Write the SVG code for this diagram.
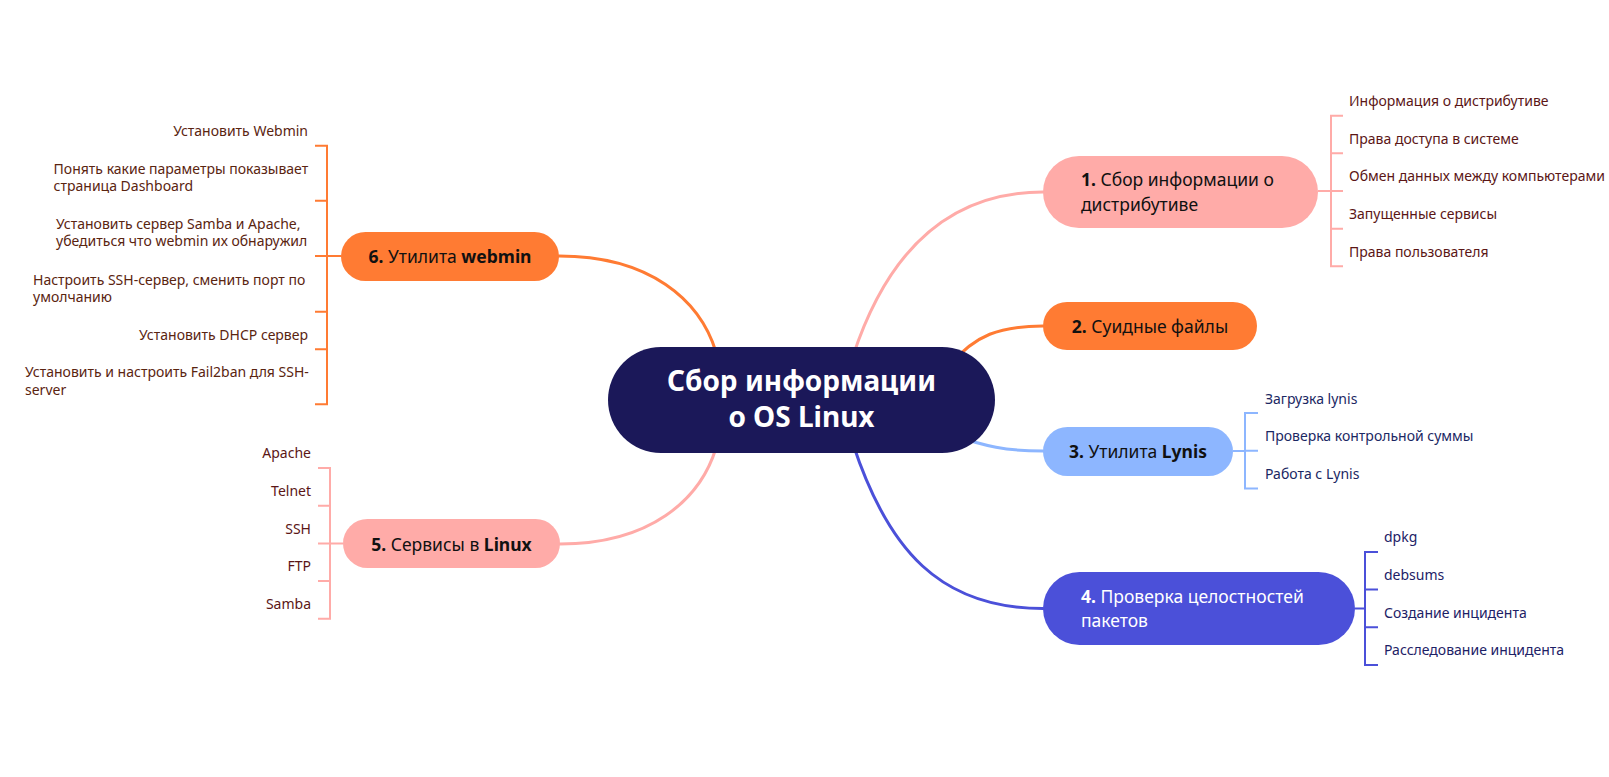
<svg xmlns="http://www.w3.org/2000/svg" width="1609" height="777" viewBox="0 0 1609 777">
<style>
text { font-family: "Noto Sans", "Open Sans", "Liberation Sans", sans-serif; }
.sub { font-size: 14px; }
.lbl { font-size: 17.5px; fill: #111111; }
.b { font-weight: 700; }
.c1 { fill: #5B1616; }
.c3 { fill: #1B2763; }
.c4 { fill: #1D2166; }
.c5 { fill: #5B1616; }
.c6 { fill: #5A2410; }
.ln { fill: none; stroke-width: 3; stroke-linecap: round; }
.br { fill: none; stroke-width: 2; }
.pink { stroke: #FFABA8; }
.orange { stroke: #FF7B33; }
.lblue { stroke: #8DB6FF; }
.indigo { stroke: #4B50D9; }
</style>
<rect width="1609" height="777" fill="#FFFFFF"/>
<g id="connectors">
  <path class="ln pink" d="M853 356 C884 262 940 192 1043 192"/>
  <path class="ln orange" d="M950 365 C975 335 1000 326 1043 326"/>
  <path class="ln lblue" d="M955 436 C985 446 1005 451 1043 451"/>
  <path class="ln indigo" d="M853 444 C888 550 940 608.5 1043 608.5"/>
  <path class="ln orange" d="M716 352 C700 300 650 256 559 256"/>
  <path class="ln pink" d="M716 448 C700 500 650 544 560 544"/>
  <path class="br pink" d="M1318 191 H1331 M1343 115.7 H1331 V266.3 H1343 M1331 153.3 H1343 M1331 191 H1343 M1331 228.7 H1343"/>
  <path class="br lblue" d="M1233 451 H1245 M1258 413 H1245 V488.5 H1258 M1245 450.8 H1258"/>
  <path class="br indigo" d="M1355 608.5 H1365 M1378 552 H1365 V664.9 H1378 M1365 589.6 H1378 M1365 627.2 H1378"/>
  <path class="br orange" d="M341 256 H327 M315 145.7 H327 V404.3 H315 M327 200.7 H315 M327 256 H315 M327 311.7 H315 M327 349.3 H315"/>
  <path class="br pink" d="M343 543.4 H330 M318 468 H330 V618.8 H318 M330 505.7 H318 M330 543.4 H318 M330 581.1 H318"/>
</g>
<g id="center">
  <rect x="608" y="347" width="387" height="106" rx="53" fill="#1B1859"/>
  <text x="801.5" y="391" text-anchor="middle" font-size="28" class="b" fill="#FFFFFF">Сбор информации</text>
  <text x="801.5" y="427" text-anchor="middle" font-size="28" class="b" fill="#FFFFFF">о OS Linux</text>
</g>
<g id="node1">
  <rect x="1043" y="156" width="275" height="72" rx="36" fill="#FFABA8"/>
  <text class="lbl" x="1081" y="186"><tspan class="b">1.</tspan> Сбор информации о</text>
  <text class="lbl" x="1081" y="210.5">дистрибутиве</text>
  <text class="sub c1" x="1349" y="106">Информация о дистрибутиве</text>
  <text class="sub c1" x="1349" y="143.6">Права доступа в системе</text>
  <text class="sub c1" x="1349" y="181.3">Обмен данных между компьютерами</text>
  <text class="sub c1" x="1349" y="219">Запущенные сервисы</text>
  <text class="sub c1" x="1349" y="256.6">Права пользователя</text>
</g>
<g id="node2">
  <rect x="1043" y="302" width="214" height="48" rx="24" fill="#FF7B33"/>
  <text class="lbl" x="1150" y="332.5" text-anchor="middle"><tspan class="b">2.</tspan> Суидные файлы</text>
</g>
<g id="node3">
  <rect x="1043" y="427" width="190" height="49" rx="24.5" fill="#8DB6FF"/>
  <text class="lbl" x="1138" y="458" text-anchor="middle"><tspan class="b">3.</tspan> Утилита <tspan class="b">Lynis</tspan></text>
  <text class="sub c3" x="1265" y="403.5">Загрузка lynis</text>
  <text class="sub c3" x="1265" y="441.2">Проверка контрольной суммы</text>
  <text class="sub c3" x="1265" y="478.9">Работа с Lynis</text>
</g>
<g id="node4">
  <rect x="1043" y="572" width="312" height="73" rx="36.5" fill="#4B50D9"/>
  <text class="lbl" x="1081" y="602.5" style="fill:#FFFFFF"><tspan class="b">4.</tspan> Проверка целостностей</text>
  <text class="lbl" x="1081" y="627" style="fill:#FFFFFF">пакетов</text>
  <text class="sub c4" x="1384" y="542.3">dpkg</text>
  <text class="sub c4" x="1384" y="580">debsums</text>
  <text class="sub c4" x="1384" y="617.5">Создание инцидента</text>
  <text class="sub c4" x="1384" y="655.2">Расследование инцидента</text>
</g>
<g id="node5">
  <rect x="343" y="519" width="217" height="49" rx="24.5" fill="#FFABA8"/>
  <text class="lbl" x="451.5" y="550.5" text-anchor="middle"><tspan class="b">5.</tspan> Сервисы в <tspan class="b">Linux</tspan></text>
  <text class="sub c5" x="311" y="458.3" text-anchor="end">Apache</text>
  <text class="sub c5" x="311" y="496" text-anchor="end">Telnet</text>
  <text class="sub c5" x="311" y="533.7" text-anchor="end">SSH</text>
  <text class="sub c5" x="311" y="571.4" text-anchor="end">FTP</text>
  <text class="sub c5" x="311" y="609.1" text-anchor="end">Samba</text>
</g>
<g id="node6">
  <rect x="341" y="232" width="218" height="49" rx="24.5" fill="#FF7B33"/>
  <text class="lbl" x="450" y="263" text-anchor="middle"><tspan class="b">6.</tspan> Утилита <tspan class="b">webmin</tspan></text>
  <text class="sub c6" x="308" y="136" text-anchor="end">Установить Webmin</text>
  <text class="sub c6" x="53.6" y="173.5">Понять какие параметры показывает</text>
  <text class="sub c6" x="53.6" y="191">страница Dashboard</text>
  <text class="sub c6" x="56" y="228.8">Установить сервер Samba и Apache,</text>
  <text class="sub c6" x="56" y="246.3">убедиться что webmin их обнаружил</text>
  <text class="sub c6" x="33" y="284.5">Настроить SSH-сервер, сменить порт по</text>
  <text class="sub c6" x="33" y="302">умолчанию</text>
  <text class="sub c6" x="308" y="339.6" text-anchor="end">Установить DHCP сервер</text>
  <text class="sub c6" x="25" y="377">Установить и настроить Fail2ban для SSH-</text>
  <text class="sub c6" x="25" y="394.6">server</text>
</g>
</svg>
